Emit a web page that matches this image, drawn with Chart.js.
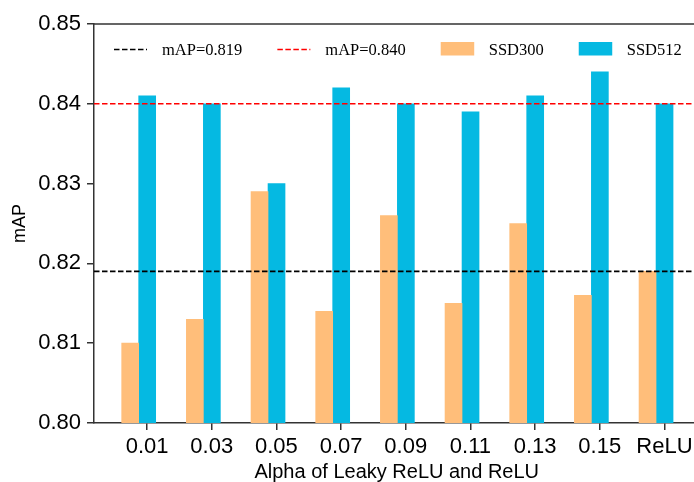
<!DOCTYPE html>
<html>
<head>
<meta charset="utf-8">
<script src="https://cdn.jsdelivr.net/npm/chart.js@4/dist/chart.umd.min.js"></script>
<style>
  html, body { margin: 0; padding: 0; background: #fff; overflow: hidden; }
  #wrap { width: 710px; height: 482px; }
</style>
</head>
<body>
<div id="wrap"><canvas id="c" width="710" height="482"></canvas></div>
<script>
// ---- data ----
const categories = ['0.01', '0.03', '0.05', '0.07', '0.09', '0.11', '0.13', '0.15', 'ReLU'];
const ssd300 = [0.810, 0.813, 0.829, 0.814, 0.826, 0.815, 0.825, 0.816, 0.819];
const ssd512 = [0.841, 0.840, 0.830, 0.842, 0.840, 0.839, 0.841, 0.844, 0.840];
const refValues = [0.819, 0.840];
const refLabels = ['mAP=0.819', 'mAP=0.840'];
const yTicks = [0.80, 0.81, 0.82, 0.83, 0.84, 0.85];

// ---- styles ----
const refColors = ['#000000', '#ff0000'];
const colorSSD300 = '#FFBE7A';
const colorSSD512 = '#05B9E2';
const axisColor = '#333333';
const BAR_PX = 17;

const refAndLegendPlugin = {
  id: 'refAndLegend',
  afterDatasetsDraw(chart) {
    const ctx = chart.ctx;
    const area = chart.chartArea;
    const y = chart.scales.y;
    ctx.save();
    ctx.lineWidth = 1.6;
    ctx.setLineDash([5.5, 2.5]);
    refValues.forEach((v, i) => {
      const py = y.getPixelForValue(v);
      ctx.strokeStyle = refColors[i];
      ctx.beginPath();
      ctx.moveTo(area.left, py);
      ctx.lineTo(area.right, py);
      ctx.stroke();
    });
    ctx.restore();
  },
  afterDraw(chart) {
    const ctx = chart.ctx;
    const area = chart.chartArea;
    ctx.save();
    // frame (top + right)
    ctx.strokeStyle = axisColor;
    ctx.lineWidth = 1.5;
    ctx.setLineDash([]);
    ctx.beginPath();
    ctx.moveTo(area.left, area.top);
    ctx.lineTo(area.right, area.top);
    ctx.lineTo(area.right, area.bottom);
    ctx.stroke();

    // legend
    const items = [
      { type: 'line', color: refColors[0], label: refLabels[0] },
      { type: 'line', color: refColors[1], label: refLabels[1] },
      { type: 'box', color: colorSSD300, label: chart.data.datasets[0].label },
      { type: 'box', color: colorSSD512, label: chart.data.datasets[1].label },
    ];
    ctx.font = '16.5px "Liberation Serif", "Times New Roman", serif';
    ctx.textBaseline = 'middle';
    ctx.textAlign = 'left';
    let x = area.left + 20;
    const cy = area.top + 25.5;
    items.forEach(it => {
      if (it.type === 'line') {
        ctx.strokeStyle = it.color;
        ctx.lineWidth = 1.6;
        ctx.setLineDash([5.5, 2.5]);
        ctx.beginPath();
        ctx.moveTo(x, cy);
        ctx.lineTo(x + 33, cy);
        ctx.stroke();
      } else {
        ctx.fillStyle = it.color;
        ctx.fillRect(x, cy - 7.5, 33.5, 13.5);
      }
      ctx.fillStyle = '#000';
      const tx = x + 48;
      ctx.fillText(it.label, tx, cy + 1);
      x = tx + ctx.measureText(it.label).width + 35;
    });
    ctx.restore();
  }
};

const tickShift = 0.13;

new Chart(document.getElementById('c'), {
  type: 'bar',
  data: {
    datasets: [
      {
        label: 'SSD300',
        data: categories.map((c, i) => ({ x: i, y: ssd300[i] })),
        backgroundColor: colorSSD300,
        barThickness: BAR_PX,
      },
      {
        label: 'SSD512',
        data: categories.map((c, i) => ({ x: i, y: ssd512[i] })),
        backgroundColor: colorSSD512,
        barThickness: BAR_PX,
      }
    ]
  },
  options: {
    responsive: false,
    animation: false,
    layout: { padding: { left: 0, top: 24, right: 10.5, bottom: 0 } },
    plugins: { legend: { display: false }, tooltip: { enabled: false } },
    scales: {
      x: {
        type: 'linear',
        offset: false,
        min: -0.691,
        max: 8.672,
        afterBuildTicks(scale) {
          scale.ticks = categories.map((c, i) => ({ value: i + tickShift }));
        },
        afterFit(scale) { scale.height = 59; },
        ticks: {
          callback: (v, i) => categories[i],
          color: '#000',
          font: { family: '"Liberation Sans", Arial, sans-serif', size: 22 },
          padding: 4,
          maxRotation: 0,
          autoSkip: false,
        },
        grid: {
          display: true,
          offset: false,
          drawOnChartArea: false,
          drawTicks: true,
          tickLength: 7,
          color: axisColor,
          lineWidth: 1.5,
        },
        border: { display: true, color: axisColor, width: 1.5 },
        title: {
          display: true,
          text: 'Alpha of Leaky ReLU and ReLU',
          color: '#000',
          font: { family: '"Liberation Sans", Arial, sans-serif', size: 20, lineHeight: 1 },
          padding: { top: 0, bottom: 0 },
        },
      },
      y: {
        min: 0.80,
        max: 0.85,
        beginAtZero: false,
        afterBuildTicks(scale) {
          scale.ticks = yTicks.map(v => ({ value: v }));
        },
        afterFit(scale) { scale.width = 94; },
        ticks: {
          callback: (v) => Number(v).toFixed(2),
          color: '#000',
          font: { family: '"Liberation Sans", Arial, sans-serif', size: 22 },
          padding: 6,
        },
        grid: {
          display: true,
          drawOnChartArea: false,
          drawTicks: true,
          tickLength: 7,
          color: axisColor,
          lineWidth: 1.5,
        },
        border: { display: true, color: axisColor, width: 1.5 },
        title: {
          display: true,
          text: 'mAP',
          color: '#000',
          font: { family: '"Liberation Sans", Arial, sans-serif', size: 18, lineHeight: 1 },
          padding: { top: 11, bottom: 0 },
        },
      }
    }
  },
  plugins: [refAndLegendPlugin]
});
</script>
</body>
</html>
